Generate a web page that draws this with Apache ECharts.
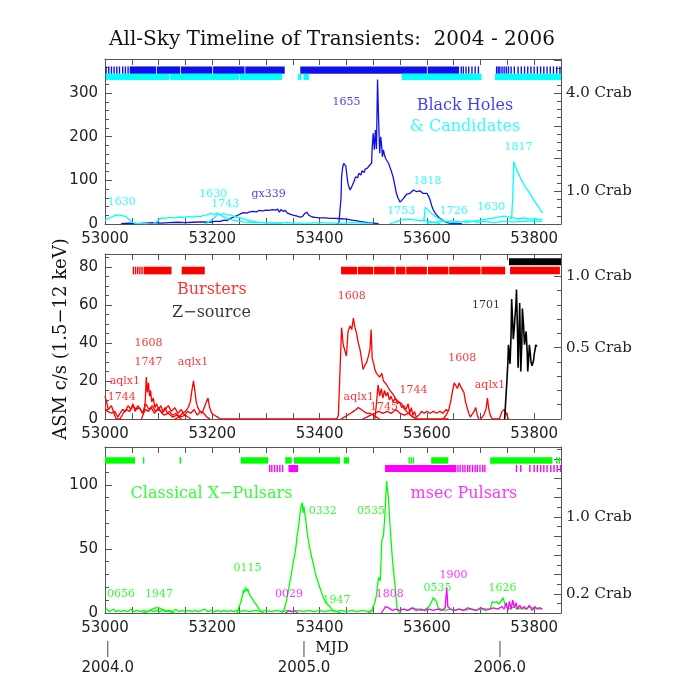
<!DOCTYPE html>
<html><head><meta charset="utf-8">
<script src="https://cdn.jsdelivr.net/npm/echarts@6/dist/echarts.min.js"></script>
<style>html,body{margin:0;padding:0;background:#fff}#c{width:681px;height:680px}</style>
</head><body><div id="c"></div>
<script>
// ---------------- DATA ----------------
const xMin = 53000, xMax = 53850;
const CRAB = 75; // c/s per Crab
const yMaxBH = 378, yMaxBurst = 86.7, yMaxPuls = 129.5;
const xTickLabels = [53000, 53200, 53400, 53600, 53800];
const yearMJD = [53005, 53371, 53736];
const yearLabels = ['2004.0', '2005.0', '2006.0'];

// Panel 1: Black holes (blue) & candidates (cyan)
const gx339 = [[53030,1],[53045,2],[53060,1],[53075,2],[53090,3],[53105,2],[53120,3],[53135,4],[53150,3],[53165,4],[53180,5],[53195,4],[53205,6],[53215,6],[53222,9],[53228,8],[53234,13],[53240,16],[53246,19],[53252,23],[53258,26],[53264,25],[53270,28],[53276,29],[53282,28],[53288,31],[53294,30],[53300,32],[53306,31],[53312,33],[53318,32],[53322,34],[53325,27],[53328,33],[53332,29],[53336,31],[53340,25],[53346,22],[53352,20],[53358,18],[53364,16],[53368,17],[53372,24],[53376,27],[53380,20],[53386,16],[53392,15],[53400,14],[53410,14],[53420,13],[53430,13],[53440,12],[53450,11],[53460,9],[53470,7],[53480,5],[53490,3],[53500,2],[53510,1]];
const bh1655 = [[53432,1],[53436,2],[53438,5],[53440,60],[53441,108],[53443,130],[53445,139],[53447,136],[53449,132],[53451,110],[53453,92],[53455,84],[53457,78],[53459,80],[53461,88],[53463,86],[53465,100],[53467,108],[53469,112],[53471,106],[53473,116],[53475,120],[53477,112],[53479,122],[53481,124],[53483,118],[53485,126],[53487,124],[53489,128],[53491,126],[53493,134],[53495,136],[53497,140],[53498,175],[53500,208],[53502,170],[53504,215],[53506,172],[53508,331],[53510,240],[53511,200],[53512,162],[53514,200],[53516,175],[53517,154],[53519,170],[53521,158],[53523,150],[53526,147],[53529,138],[53531,135],[53534,120],[53537,108],[53540,90],[53543,71],[53546,60],[53550,50],[53553,54],[53556,58],[53559,63],[53562,68],[53565,66],[53568,70],[53571,73],[53575,78],[53578,75],[53581,74],[53584,77],[53587,76],[53590,72],[53593,70],[53596,74],[53600,70],[53603,64],[53606,55],[53609,42],[53612,32],[53615,26],[53618,21],[53621,17],[53624,13],[53628,10],[53631,8],[53636,4],[53642,2],[53650,1],[53665,1]];
const c1630a = [[53000,9],[53006,13],[53012,16],[53018,19],[53024,21],[53030,20],[53036,18],[53041,15],[53046,9],[53050,5],[53055,2],[53060,1],[53080,1]];
const c1630b = [[53090,2],[53096,5],[53101,10],[53106,14],[53113,13],[53121,15],[53130,14],[53138,16],[53146,15],[53154,17],[53162,16],[53171,18],[53178,17],[53184,20],[53190,21],[53195,23],[53199,24],[53204,21],[53208,25],[53211,22],[53216,20],[53220,17],[53226,14],[53232,11],[53239,9],[53248,7],[53258,5],[53270,4],[53283,3],[53300,3],[53320,2],[53340,3],[53360,2],[53380,2],[53400,3],[53420,2],[53440,2],[53460,3],[53480,2],[53500,2]];
const c1743 = [[53185,0],[53192,3],[53198,9],[53203,14],[53208,19],[53212,23],[53217,21],[53221,24],[53226,22],[53231,21],[53236,20],[53242,17],[53247,15],[53252,14],[53260,11],[53268,8],[53276,6],[53286,4],[53296,3],[53310,2],[53330,2]];
const c1753 = [[53530,0],[53538,3],[53545,6],[53552,9],[53558,10],[53565,11],[53572,10],[53580,9],[53588,8],[53595,9],[53600,7],[53608,5],[53615,3],[53625,1]];
const c1818 = [[53594,5],[53597,38],[53599,40],[53601,34],[53604,30],[53607,26],[53611,22],[53615,18],[53620,14],[53626,10],[53633,7],[53640,5],[53650,4],[53660,3]];
const c1726 = [[53600,2],[53615,4],[53625,6],[53635,5],[53645,7],[53655,6],[53665,5],[53675,7],[53685,6],[53695,4],[53705,6],[53715,5],[53725,3],[53740,6],[53760,5],[53780,6],[53800,7],[53815,6]];
const c1630c = [[53670,3],[53680,5],[53690,7],[53700,9],[53710,11],[53720,13],[53730,15],[53738,17],[53745,18],[53752,16],[53758,15],[53765,13],[53772,12],[53780,14],[53788,12],[53796,11],[53804,12],[53810,10],[53815,11]];
const c1817 = [[53754,12],[53758,14],[53760,60],[53762,143],[53764,135],[53766,128],[53769,120],[53772,112],[53775,103],[53778,98],[53781,90],[53784,84],[53787,80],[53790,74],[53793,68],[53796,62],[53799,56],[53802,50],[53805,45],[53808,40],[53811,33],[53814,28],[53816,26]];
// activity bars (MJD intervals and single ticks)
const bhOnIntervals = [[53046,53095],[53096.5,53140],[53141.5,53200],[53201.5,53260],[53261.5,53335],[53364,53600],[53601.5,53660]];
const bhOnTicks = [53002,53007,53012,53017,53022,53027,53033,53038,53043,53664,53668,53673,53678,53684,53690,53696,53730,53733,53736,53740,53744,53748,53752,53757,53763,53770,53776,53782,53788,53794,53800,53806,53812,53818,53824,53830,53836,53842,53848];
const candOnIntervals = [[53002,53120],[53121.5,53250],[53251.5,53330],[53360,53366],[53370,53380],[53553,53702],[53727,53850]];
const candOnTicks = [];

// Panel 2: Bursters (red) & Z-source (black)
const aql1a = [[53000,12],[53003,9],[53006,5],[53009,6],[53012,7],[53015,6],[53018,2],[53021,0],[53030,0]];
const b1744a = [[53000,5],[53005,4],[53012,3],[53018,4],[53024,1],[53028,3],[53033,5],[53038,4],[53043,7],[53048,5],[53052,8],[53056,4],[53061,7],[53066,5],[53071,3],[53076,5],[53081,4],[53086,6],[53092,3],[53098,5],[53104,4],[53110,2],[53118,3],[53126,1],[53134,2],[53142,0]];
const b1608early = [[53028,0],[53034,3],[53040,5],[53046,4],[53052,7],[53058,5],[53064,6],[53070,3],[53076,8],[53082,5],[53088,7],[53094,4],[53100,6],[53106,3],[53112,5],[53118,7],[53124,4],[53130,6],[53136,3],[53142,5],[53148,2],[53154,4],[53160,3],[53166,5],[53172,2],[53178,4],[53184,3],[53190,1],[53196,0]];
const b1747 = [[53068,0],[53072,3],[53075,9],[53077,22],[53079,14],[53081,19],[53083,12],[53085,15],[53087,9],[53090,11],[53093,6],[53096,8],[53100,5],[53104,7],[53108,4],[53112,6],[53116,3],[53120,4],[53126,2],[53132,3],[53140,1],[53150,2],[53160,0]];
const aql1b = [[53130,0],[53138,1],[53144,3],[53150,4],[53155,6],[53159,9],[53162,15],[53165,20],[53167,16],[53170,9],[53173,6],[53177,4],[53181,3],[53185,6],[53189,9],[53192,11],[53195,6],[53199,3],[53204,2],[53210,1],[53214,0],[53432,0]];
const b1608big = [[53432,0],[53435,2],[53438,25],[53441,48],[53444,39],[53447,40],[53450,33],[53453,46],[53457,49],[53460,47],[53463,53],[53466,48],[53469,45],[53472,40],[53475,37],[53478,32],[53481,26],[53484,28],[53488,30],[53491,33],[53494,37],[53496,47],[53498,32],[53501,29],[53503,26],[53506,24],[53509,23],[53512,22],[53516,24],[53519,20],[53522,19],[53525,18],[53528,17],[53531,15],[53534,14],[53537,13],[53541,11],[53544,10],[53547,9],[53550,8],[53553,8],[53556,6],[53559,5],[53562,4],[53565,3],[53570,2],[53575,1],[53581,0],[53640,0]];
const aql1mid = [[53440,0],[53446,1],[53452,2],[53458,3],[53463,4],[53468,5],[53472,6],[53475,7],[53478,5],[53482,4],[53488,3],[53494,3],[53500,2],[53506,1],[53512,0]];
const b1744mid = [[53503,0],[53506,8],[53509,18],[53512,12],[53515,16],[53518,11],[53521,15],[53524,12],[53527,14],[53530,10],[53533,12],[53537,9],[53541,11],[53545,8],[53549,9],[53553,6],[53557,7],[53561,5],[53565,8],[53568,3],[53571,6],[53574,2],[53577,4],[53580,1],[53585,2],[53590,4],[53595,3],[53600,4],[53606,3],[53612,4],[53618,3],[53624,4],[53630,3],[53636,5],[53640,4]];
const b1745 = [[53480,0],[53488,1],[53495,2],[53503,3],[53510,4],[53518,3],[53526,4],[53534,3],[53542,5],[53550,3],[53558,2],[53566,3],[53574,1],[53582,0]];
const b1608late = [[53630,0],[53636,2],[53641,5],[53645,10],[53648,15],[53651,19],[53654,18],[53657,16],[53660,19],[53663,17],[53666,18],[53669,14],[53672,9],[53675,6],[53678,3],[53681,1],[53684,0],[53688,4],[53691,6],[53694,2],[53697,0]];
const aql1late = [[53700,0],[53706,2],[53710,5],[53713,11],[53715,6],[53718,2],[53722,0],[53735,0],[53740,4],[53744,5],[53748,3],[53752,0]];
const z1701 = [[53745,0],[53747,10],[53749,19],[53751,30],[53752,39],[53754,32],[53755,29],[53757,45],[53758,63],[53760,50],[53761,42],[53763,48],[53764,53],[53766,60],[53767,68],[53769,45],[53770,27],[53772,48],[53773,61],[53775,25],[53777,40],[53778,58],[53780,50],[53782,39],[53785,46],[53787,35],[53788,25],[53790,33],[53791,39],[53793,34],[53794,30],[53796,28],[53797,27],[53799,31],[53800,34],[53802,37],[53803,39],[53805,38],[53806,38]];
const burstOnIntervals = [[53072,53124],[53143,53186],[53440,53470],[53471.5,53500],[53501.5,53540],[53542,53560],[53561.5,53600],[53602,53640],[53641.5,53700],[53701.5,53746],[53755,53848]];
const burstOnTicks = [53053,53057,53061,53065,53069];
const zOnIntervals = [[53753,53850]];

// Panel 3: classical X-ray pulsars (green) & msec pulsars (magenta)
const p0656 = [[53000,2],[53004,3],[53008,1],[53012,2],[53016,3],[53020,1],[53025,2],[53030,1],[53036,2],[53042,1],[53048,3],[53054,1],[53060,2],[53066,1],[53072,2],[53078,1],[53084,2],[53090,1],[53096,2],[53102,1],[53108,2],[53114,1],[53120,2],[53126,1],[53132,3],[53138,1],[53144,2],[53150,1],[53156,2],[53162,1],[53168,2],[53174,1],[53180,2],[53186,3],[53192,1],[53198,2],[53204,1],[53210,2],[53216,1],[53222,2],[53228,1],[53234,2],[53240,1],[53246,2],[53252,1],[53260,2],[53270,1],[53280,2],[53290,1],[53300,2],[53310,1],[53320,2],[53330,1],[53340,2],[53350,1],[53360,2],[53370,1],[53380,2],[53390,1],[53400,2],[53410,1],[53420,2],[53430,1],[53440,2],[53450,1],[53460,2],[53470,1],[53480,2],[53490,1],[53500,2]];
const p1947 = [[53070,0],[53080,1],[53088,3],[53094,4],[53100,4],[53106,3],[53112,2],[53120,1],[53130,0]];
const p0115 = [[53246,0],[53250,5],[53253,8],[53256,13],[53258,18],[53260,16],[53262,20],[53264,17],[53266,19],[53268,16],[53270,14],[53273,12],[53276,10],[53279,8],[53283,6],[53287,3],[53292,1],[53296,0]];
const p0332 = [[53330,0],[53334,3],[53338,9],[53342,18],[53345,25],[53348,32],[53351,40],[53354,46],[53356,52],[53358,60],[53360,65],[53362,72],[53364,80],[53366,84],[53368,86],[53369,78],[53371,83],[53373,76],[53375,70],[53377,62],[53379,57],[53382,50],[53385,44],[53388,39],[53391,33],[53394,28],[53398,23],[53402,18],[53407,12],[53412,8],[53419,5],[53425,2],[53432,1],[53440,0]];
const p0535 = [[53490,0],[53496,1],[53500,5],[53503,8],[53506,14],[53509,25],[53511,28],[53513,25],[53515,45],[53516,57],[53518,58],[53519,60],[53521,72],[53522,79],[53524,95],[53525,103],[53526,98],[53528,91],[53530,78],[53531,70],[53534,52],[53536,41],[53539,28],[53541,20],[53543,10],[53544,5],[53547,1],[53552,0]];
const pLate = [[53550,2],[53558,3],[53566,2],[53574,4],[53582,3],[53590,2],[53598,3],[53604,5],[53608,8],[53612,12],[53615,13],[53618,9],[53621,4],[53626,3],[53634,2],[53642,3],[53650,2],[53660,3],[53670,2],[53680,3],[53690,2],[53700,3],[53710,2],[53718,3],[53722,9],[53726,8],[53730,9],[53734,7],[53738,9],[53742,12],[53746,6],[53750,4],[53756,3],[53762,5],[53768,3],[53776,4],[53784,3],[53792,5],[53800,3],[53808,4],[53815,3]];
const m0029 = [[53336,0],[53340,1],[53344,2],[53348,1],[53352,2],[53356,1],[53360,0]];
const mLate = [[53515,0],[53520,3],[53523,5],[53526,6],[53529,4],[53532,3],[53536,2],[53542,3],[53548,2],[53556,3],[53564,2],[53572,4],[53580,2],[53588,3],[53596,2],[53604,3],[53612,2],[53620,3],[53628,2],[53634,4],[53637,20],[53639,5],[53644,3],[53652,2],[53660,3],[53668,2],[53676,4],[53684,3],[53692,2],[53700,4],[53708,3],[53716,3],[53724,4],[53732,3],[53740,5],[53744,3],[53748,8],[53751,2],[53754,9],[53757,3],[53760,10],[53763,4],[53766,8],[53769,3],[53773,6],[53777,3],[53781,5],[53786,3],[53791,6],[53796,2],[53801,5],[53806,3],[53811,4],[53815,3]];
const xpOnIntervals = [[53000,53056],[53072,53074],[53139,53142],[53253,53304],[53336,53348],[53352,53438],[53445,53455],[53608,53640],[53718,53834]];
const xpOnTicks = [53567,53571,53575,53842,53847];
const msOnIntervals = [[53342,53360],[53522,53655]];
const msOnTicks = [53307,53311,53316,53321,53326,53331,53658,53662,53667,53671,53676,53680,53685,53690,53694,53699,53704,53708,53767,53775,53792,53800,53806,53812,53818,53824,53831,53837,53843,53849];

// text annotations: [text, MJD, c/s]
const bhBlueNotes = [['gx339',53305,69],['1655',53450,280],['Black Holes',53671,271]];
const bhCyanNotes = [['1630',53031,49],['1630',53202,69],['1743',53224,46],['1818',53601,99],['1753',53552,30],['1726',53650,30],['1630',53720,39],['1817',53771,177],['& Candidates',53671,223]];
const burstRedNotes = [['Bursters',53199,67.7],['1608',53081,39.8],['1747',53081,29.8],['aqlx1',53164,29.8],['aqlx1',53037,19.8],['1744',53031,11.3],['1608',53460,64.6],['aqlx1',53473,11.3],['1745',53520,6],['1744',53575,15],['1608',53666,31.9],['aqlx1',53717.6,17.7]];
const burstBlackNotes = [['Z\u2212source',53198.5,55.6],['1701',53710,59.8]];
const xpGreenNotes = [['Classical X\u2212Pulsars',53198.5,93],['0656',53030,14.6],['1947',53100.6,14.6],['0115',53265.6,35],['0332',53406,79.6],['1947',53431.5,10],['0535',53496,79.6],['0535',53620,19.3],['1626',53741,19.3]];
const msMagentaNotes = [['msec Pulsars',53669,93],['0029',53343,14.6],['1808',53531,14.6],['1900',53649.5,29.5]];

// ---------------- STYLE / BUILD ----------------
const BLUE = '#1010e8', CYAN = '#00ffff', RED = '#ff0000', BLACK = '#000000', GREEN = '#00ff00', MAG = '#ff00ff';
const FRAME = '#555555';
const SANS = 'DejaVu Sans', SERIF = 'DejaVu Serif';
const grids = [
  {left: 105, width: 456, top: 59, height: 165},
  {left: 105, width: 456, top: 254, height: 165},
  {left: 105, width: 456, top: 447, height: 166}
];
const yMaxes = [yMaxBH, yMaxBurst, yMaxPuls];
const yIntervals = [100, 20, 50];
const yMinorSplit = [5, 4, 5];
const crabIntervals = [1, 0.5, 0.2];
const crabMinor = [4, 5, 2];
const crabLabelVals = [[1, 4], [0.5, 1], [0.2, 1]];

const xAxes = [], yAxes = [];
grids.forEach((g, gi) => {
  xAxes.push({type: 'value', gridIndex: gi, min: xMin, max: xMax, interval: 50, position: 'bottom',
    axisLine: {show: true, onZero: false, lineStyle: {color: FRAME, width: 1}},
    axisTick: {show: true, inside: true, length: 6, lineStyle: {color: FRAME}},
    axisLabel: {show: true, margin: 8, fontFamily: SANS, fontSize: 15, color: '#222',
      formatter: v => xTickLabels.indexOf(v) >= 0 ? String(v) : ''},
    splitLine: {show: false}});
  xAxes.push({type: 'value', gridIndex: gi, min: xMin, max: xMax, interval: 50, position: 'top',
    axisLine: {show: true, onZero: false, lineStyle: {color: FRAME, width: 1}},
    axisTick: {show: true, inside: true, length: 6, lineStyle: {color: FRAME}},
    axisLabel: {show: false}, splitLine: {show: false}});
  yAxes.push({type: 'value', gridIndex: gi, min: 0, max: yMaxes[gi], interval: yIntervals[gi], position: 'left',
    axisLine: {show: true, onZero: false, lineStyle: {color: FRAME, width: 1}},
    axisTick: {show: true, inside: true, length: 7, lineStyle: {color: FRAME}},
    minorTick: {show: true, splitNumber: yMinorSplit[gi], length: 4, lineStyle: {color: FRAME}},
    axisLabel: {margin: 7, fontFamily: SANS, fontSize: 15, color: '#222',
      formatter: v => (Math.abs(v % yIntervals[gi]) < 1e-9 ? String(v) : '')},
    splitLine: {show: false}});
  const cl = crabLabelVals[gi];
  yAxes.push({type: 'value', gridIndex: gi, min: 0, max: yMaxes[gi] / CRAB, interval: crabIntervals[gi], position: 'right',
    axisLine: {show: true, onZero: false, lineStyle: {color: FRAME, width: 1}},
    axisTick: {show: true, inside: true, length: 7, lineStyle: {color: FRAME}},
    minorTick: {show: true, splitNumber: crabMinor[gi], length: 4, lineStyle: {color: FRAME}},
    axisLabel: {margin: 5, fontFamily: SERIF, fontSize: 15, color: '#222',
      formatter: v => (cl.some(c => Math.abs(c - v) < 1e-6) ? v.toFixed(1) + ' Crab' : '')},
    splitLine: {show: false}});
});
// year axis under bottom panel: a "|" marker and the year label at each year start
xAxes.push({type: 'value', gridIndex: 2, min: xMin, max: xMax, position: 'bottom', offset: 0,
  axisLine: {show: false},
  axisTick: {show: false},
  axisLabel: {show: true, customValues: yearMJD, margin: 27, color: '#222',
    formatter: v => { const i = yearMJD.indexOf(v); return i >= 0 ? '{b||}\n{y|' + yearLabels[i] + '}' : ''; },
    rich: {
      b: {fontFamily: SANS, fontSize: 16, lineHeight: 18, color: '#777'},
      y: {fontFamily: SANS, fontSize: 15, lineHeight: 20, color: '#222'}
    }},
  splitLine: {show: false}});

function lineS(data, color, gi, w) {
  return {type: 'line', data: data, xAxisIndex: gi * 2, yAxisIndex: gi * 2, showSymbol: false, symbol: 'none',
    lineStyle: {color: color, width: w || 1.3}, itemStyle: {color: color}, animation: false, silent: true, z: 2};
}
function barS(intervals, ticks, lo, hi, color, gi) {
  const data = intervals.concat(ticks.map(t => [t, t]));
  return {type: 'custom', xAxisIndex: gi * 2, yAxisIndex: gi * 2, data: data, clip: true, silent: true, animation: false, z: 3,
    renderItem: function (params, api) {
      const a = api.coord([api.value(0), lo]);
      const b = api.coord([api.value(1), hi]);
      let x0 = a[0], w = b[0] - a[0];
      if (w < 1.4) { x0 = a[0] - 0.7; w = 1.4; }
      return {type: 'rect', shape: {x: x0, y: b[1], width: w, height: a[1] - b[1]}, style: {fill: color}};
    }};
}
function noteS(notes, color, gi) {
  return {type: 'scatter', xAxisIndex: gi * 2, yAxisIndex: gi * 2, symbolSize: 0.01, itemStyle: {color: 'transparent'},
    silent: true, animation: false, z: 6,
    data: notes.map(n => ({name: n[0], value: [n[1], n[2]],
      label: {fontSize: n[0].length > 6 ? 16 : 11}})),
    label: {show: true, position: 'inside', formatter: p => p.name, color: color, fontFamily: SERIF, fontSize: 11}};
}

const series = [
  // panel 1
  lineS(gx339, BLUE, 0), lineS(bh1655, BLUE, 0),
  lineS(c1630a, CYAN, 0), lineS(c1630b, CYAN, 0), lineS(c1743, CYAN, 0), lineS(c1753, CYAN, 0),
  lineS(c1818, CYAN, 0), lineS(c1726, CYAN, 0), lineS(c1630c, CYAN, 0), lineS(c1817, CYAN, 0),
  barS(bhOnIntervals, bhOnTicks, 344, 361, BLUE, 0),
  barS(candOnIntervals, candOnTicks, 330, 344, CYAN, 0),
  noteS(bhBlueNotes, BLUE, 0), noteS(bhCyanNotes, CYAN, 0),
  // panel 2
  lineS(aql1a, RED, 1), lineS(b1744a, RED, 1), lineS(b1608early, RED, 1), lineS(b1747, RED, 1), lineS(aql1b, RED, 1),
  lineS(b1608big, RED, 1), lineS(aql1mid, RED, 1), lineS(b1744mid, RED, 1), lineS(b1745, RED, 1),
  lineS(b1608late, RED, 1), lineS(aql1late, RED, 1), lineS(z1701, BLACK, 1, 1.6),
  barS(burstOnIntervals, burstOnTicks, 76, 80, RED, 1),
  barS(zOnIntervals, [], 80.8, 84.5, BLACK, 1),
  noteS(burstRedNotes, RED, 1), noteS(burstBlackNotes, BLACK, 1),
  // panel 3
  lineS(p0656, GREEN, 2), lineS(p1947, GREEN, 2), lineS(p0115, GREEN, 2), lineS(p0332, GREEN, 2),
  lineS(p0535, GREEN, 2), lineS(pLate, GREEN, 2), lineS(m0029, MAG, 2), lineS(mLate, MAG, 2),
  barS(xpOnIntervals, xpOnTicks, 116.5, 121.5, GREEN, 2),
  barS(msOnIntervals, msOnTicks, 110, 115.5, MAG, 2),
  noteS(xpGreenNotes, GREEN, 2), noteS(msMagentaNotes, MAG, 2)
];

const chart = echarts.init(document.getElementById('c'), null, {renderer: 'canvas'});
chart.setOption({
  animation: false,
  backgroundColor: '#ffffff',
  grid: grids,
  xAxis: xAxes,
  yAxis: yAxes,
  series: series,
  graphic: [
    {type: 'text', x: 332, y: 40, style: {text: 'All-Sky Timeline of Transients:  2004 - 2006', fontFamily: SERIF, fontSize: 20,
      fill: '#111', textAlign: 'center', textVerticalAlign: 'middle'}},
    {type: 'text', x: 61, y: 339, rotation: Math.PI / 2, style: {text: 'ASM c/s (1.5\u221212 keV)', fontFamily: SERIF, fontSize: 18,
      fill: '#111', textAlign: 'center', textVerticalAlign: 'middle'}},
    {type: 'text', x: 332, y: 648, style: {text: 'MJD', fontFamily: SERIF, fontSize: 15, fill: '#111', textAlign: 'center', textVerticalAlign: 'middle'}}
  ]
});
</script></body></html>
